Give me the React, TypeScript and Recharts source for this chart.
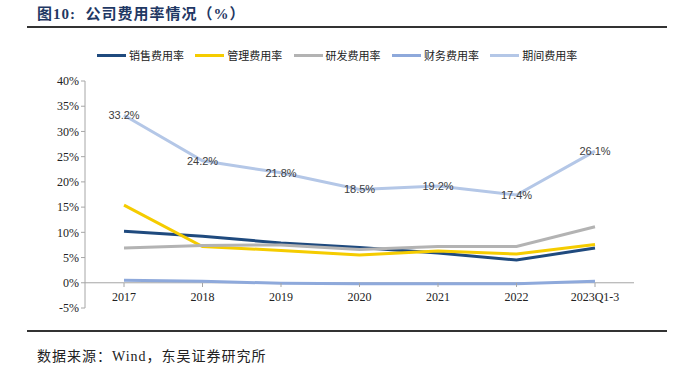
import React from 'react';
import { LineChart, Line, XAxis, YAxis, ReferenceLine, LabelList } from 'recharts';

const categories = ['2017', '2018', '2019', '2020', '2021', '2022', '2023Q1-3'];
const salesRate = [10.2, 9.2, 7.9, 7.0, 5.9, 4.5, 6.9];
const adminRate = [15.4, 7.2, 6.4, 5.5, 6.3, 5.7, 7.6];
const rdRate = [6.9, 7.4, 7.5, 6.6, 7.2, 7.2, 11.1];
const financeRate = [0.5, 0.3, -0.1, -0.2, -0.2, -0.2, 0.3];
const periodRate = [33.2, 24.2, 21.8, 18.5, 19.2, 17.4, 26.1];
const yTicks = [-5, 0, 5, 10, 15, 20, 25, 30, 35, 40];

const series = [
  { key: 'sales', name: '销售费用率', values: salesRate, color: '#1F4A7E' },
  { key: 'admin', name: '管理费用率', values: adminRate, color: '#F5CC00' },
  { key: 'rd', name: '研发费用率', values: rdRate, color: '#B3B3B3' },
  { key: 'finance', name: '财务费用率', values: financeRate, color: '#8EA9DB' },
  { key: 'period', name: '期间费用率', values: periodRate, color: '#B4C7E7' },
];

const data = categories.map((name, i) => {
  const row: { [k: string]: string | number } = { name };
  series.forEach((s) => {
    row[s.key] = s.values[i];
  });
  return row;
});

const SERIF = "'Liberation Serif', 'Times New Roman', 'Noto Sans CJK SC', serif";
const CJK = "'Noto Sans CJK SC', sans-serif";

const XTick = (props: any) => {
  const { x, y, payload } = props;
  return (
    <g>
      <line x1={x} x2={x} y1={y - 33} y2={y - 29} stroke="#A6A6A6" />
      <text
        x={x}
        y={y - 19}
        textAnchor="middle"
        dominantBaseline="central"
        fontFamily={SERIF}
        fontSize={12}
        fill="#222"
      >
        {payload.value}
      </text>
    </g>
  );
};

const renderLabel = (props: any) => {
  const { x, y, value } = props;
  return (
    <text
      x={x}
      y={y}
      textAnchor="middle"
      dominantBaseline="central"
      fontFamily="'Liberation Sans', Arial, sans-serif"
      fontSize={11}
      fill="#404040"
    >
      {`${value.toFixed(1)}%`}
    </text>
  );
};

export default function App() {
  return (
    <div
      style={{
        position: 'absolute',
        left: 0,
        top: 0,
        width: 686,
        height: 368,
        background: '#fff',
        overflow: 'hidden',
      }}
    >
      <div
        style={{
          position: 'absolute',
          left: 37,
          top: 2,
          fontFamily: SERIF,
          fontWeight: 'bold',
          fontSize: 15,
          letterSpacing: 1,
          color: '#1F3864',
          whiteSpace: 'pre',
        }}
      >
        图10:  公司费用率情况（%）
      </div>
      <div style={{ position: 'absolute', left: 27, top: 26, width: 640, height: 2, background: '#333' }} />

      {series.map((s, i) => (
        <div
          key={s.key}
          style={{
            position: 'absolute',
            left: 97 + i * 98.3,
            top: 46,
            height: 18,
            display: 'flex',
            alignItems: 'center',
            fontFamily: CJK,
            fontSize: 11,
            color: '#222',
            whiteSpace: 'nowrap',
          }}
        >
          <span style={{ display: 'inline-block', width: 29, height: 3, background: s.color, marginRight: 3 }} />
          {s.name}
        </div>
      ))}

      <div style={{ position: 'absolute', left: 0, top: 0 }}>
        <LineChart width={686} height={340} data={data} margin={{ top: 81, right: 52, left: 0, bottom: 12 }}>
          <XAxis
            dataKey="name"
            axisLine={false}
            tickLine={false}
            interval={0}
            height={20}
            padding={{ left: 39, right: 39 }}
            tick={<XTick />}
          />
          <YAxis
            width={85}
            domain={[-5, 40]}
            ticks={yTicks}
            interval={0}
            tickSize={4}
            tickFormatter={(v: number) => `${v}%`}
            axisLine={{ stroke: '#A6A6A6' }}
            tickLine={{ stroke: '#A6A6A6' }}
            tick={{ fontFamily: SERIF, fontSize: 12, fill: '#222' }}
          />
          <ReferenceLine y={0} stroke="#A6A6A6" strokeWidth={1} />
          {series.map((s) => (
            <Line
              key={s.key}
              type="linear"
              dataKey={s.key}
              name={s.name}
              stroke={s.color}
              strokeWidth={3}
              dot={false}
              activeDot={false}
              isAnimationActive={false}
            >
              {s.key === 'period' ? <LabelList dataKey={s.key} content={renderLabel} /> : null}
            </Line>
          ))}
        </LineChart>
      </div>

      <div style={{ position: 'absolute', left: 27, top: 330, width: 640, height: 2, background: '#333' }} />
      <div
        style={{
          position: 'absolute',
          left: 37,
          top: 345,
          fontFamily: SERIF,
          fontSize: 14,
          letterSpacing: 1,
          color: '#222',
          whiteSpace: 'pre',
        }}
      >
        数据来源：Wind，东吴证券研究所
      </div>
    </div>
  );
}
